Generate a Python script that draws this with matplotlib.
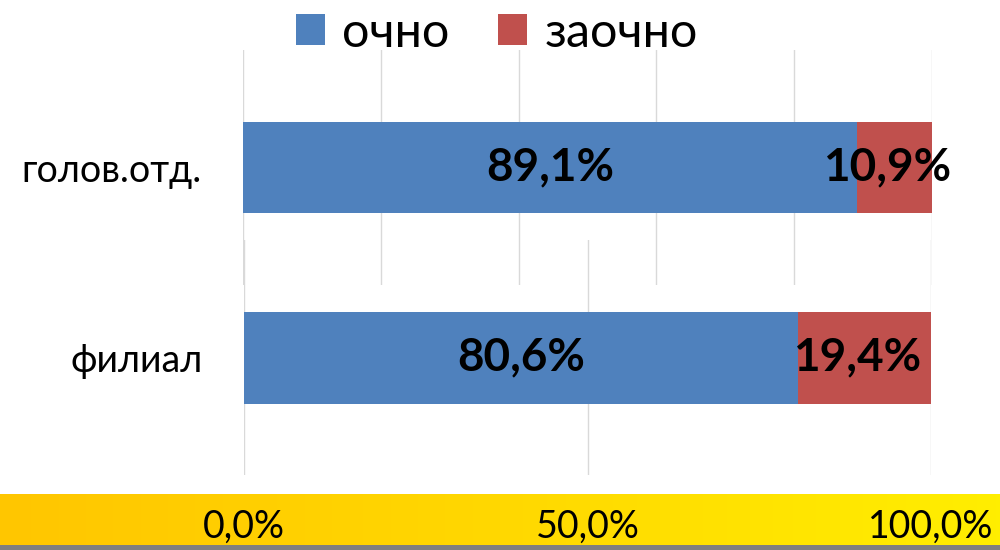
import numpy as np
import matplotlib
matplotlib.use("Agg")
import matplotlib.pyplot as plt

# data
categories = ["голов.отд.", "филиал"]
ochno = [89.1, 80.6]
zaochno = [10.9, 19.4]
series_names = ["очно", "заочно"]
axis_ticks = [0, 50, 100]
axis_labels = ["0,0%", "50,0%", "100,0%"]

blue = "#4F81BD"
red = "#C0504D"
grid_c = "#D9D9D9"

plt.rcParams["font.family"] = ["Lato", "DejaVu Sans"]

fig = plt.figure(figsize=(10, 5.5), dpi=100)

# yellow band at the bottom
band = fig.add_axes([0, 0.009, 1, 0.093], zorder=0)
grad = np.linspace(0, 1, 256).reshape(1, -1)
cmap = matplotlib.colors.LinearSegmentedColormap.from_list("band", ["#FFC600", "#FFD800", "#FFEE00"])
band.imshow(grad, aspect="auto", cmap=cmap, extent=[0, 1, 0, 1])
band.set_axis_off()
strip = fig.add_axes([0, 0, 1, 0.009], zorder=0)
strip.set_facecolor("#7F7F7F")
strip.set_xticks([])
strip.set_yticks([])
for s in strip.spines.values():
    s.set_visible(False)

# two stacked panels, one bar each
boxes = [[0.243, 0.482, 0.689, 0.427], [0.244, 0.136, 0.687, 0.427]]
grid_steps = [[0, 20, 40, 60, 80, 100], axis_ticks]
axes = []
for i, box in enumerate(boxes):
    ax = fig.add_axes(box, zorder=1)
    ax.patch.set_alpha(0)
    ax.barh([0], [ochno[i]], height=0.39, color=blue, label=series_names[0], zorder=2)
    ax.barh([0], [zaochno[i]], left=[ochno[i]], height=0.39, color=red,
            label=series_names[1], zorder=2)
    ax.text(ochno[i] / 2, 0, f"{ochno[i]:.1f}%".replace(".", ","), ha="center", va="center",
            fontsize=33, fontweight="bold", zorder=3)
    ax.text(ochno[i] + zaochno[i] / 2 - 1, 0, f"{zaochno[i]:.1f}%".replace(".", ","),
            ha="center", va="center", fontsize=33, fontweight="bold", zorder=3)
    ax.set_xlim(0, 100)
    ax.set_ylim(-0.5, 0.5)
    ax.set_xticks(grid_steps[i])
    ax.grid(axis="x", color=grid_c, linewidth=1, zorder=0)
    ax.set_yticks([0])
    ax.set_yticklabels([categories[i]], fontsize=27)
    ax.tick_params(axis="y", length=0, pad=30)
    ax.tick_params(axis="x", length=0, labelbottom=False)
    for s in ax.spines.values():
        s.set_visible(False)
    axes.append(ax)

# x labels on the yellow band
axes[1].tick_params(axis="x", labelbottom=True, labelsize=27, pad=24)
axes[1].set_xticklabels(axis_labels)

handles, labels = axes[0].get_legend_handles_labels()
fig.legend(handles, labels, loc="upper center", bbox_to_anchor=(0.497, 1.06), ncol=2,
           frameon=False, fontsize=35, handlelength=0.6, handleheight=0.6,
           handletextpad=0.35, columnspacing=1.0)

fig.savefig("out.png", dpi=100)
